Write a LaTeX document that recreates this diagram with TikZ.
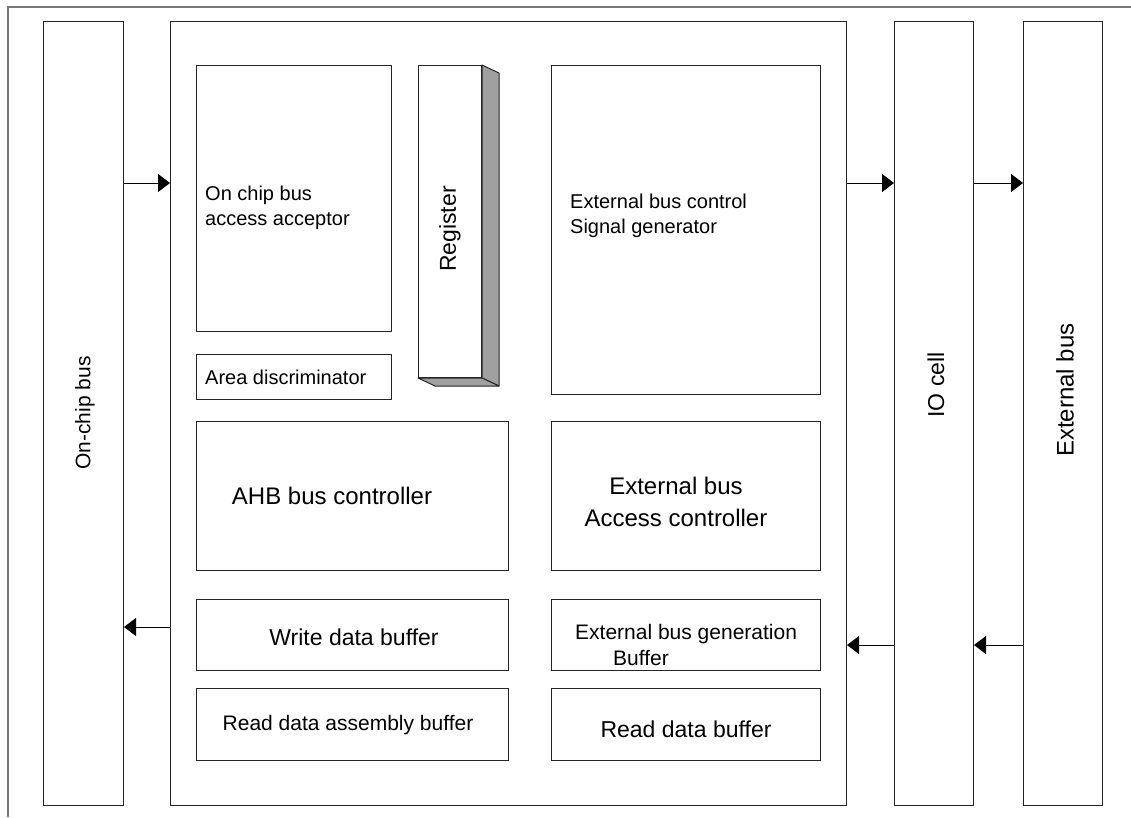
\documentclass[tikz,border=0pt]{standalone}
\usepackage{fontspec}
\setmainfont{Liberation Sans}
\usetikzlibrary{arrows.meta,calc}
\definecolor{regside}{RGB}{160,160,160}
\definecolor{framegray}{RGB}{120,120,120}
\tikzset{
  box/.style={draw=black!85, line width=1pt, inner sep=0pt, anchor=north west},
  lbl/.style={inner sep=0pt, align=left},
  arr/.style={line width=1pt, -{Triangle[length=12pt,width=18pt]}},
}
\newcommand{\fs}[1]{\fontsize{#1}{#1}\selectfont}
\begin{document}
\begin{tikzpicture}[x=1pt,y=-1pt]
\useasboundingbox (0,0) rectangle (1131,817);
\draw[framegray, line width=1.2pt] (8,817) -- (8,7) -- (1131,7);

% tall columns
\node[box, minimum width=80pt, minimum height=784pt] (ocb) at (43,21) {};
\node[box, minimum width=676pt, minimum height=784pt] (main) at (170,21) {};
\node[box, minimum width=79pt, minimum height=784pt] (io) at (894,21) {};
\node[box, minimum width=79pt, minimum height=784pt] (ext) at (1023,21) {};

% inner boxes
\node[box, minimum width=195pt, minimum height=266pt] (acc) at (196,65) {};
\node[box, minimum width=195pt, minimum height=45pt] (area) at (196,354) {};
\node[box, minimum width=63pt, minimum height=312pt] (reg) at (418,65) {};
\node[box, minimum width=269pt, minimum height=329pt] (ebc) at (551,65) {};
\node[box, minimum width=312pt, minimum height=149pt] (ahb) at (196,421) {};
\node[box, minimum width=269pt, minimum height=149pt] (eac) at (551,421) {};
\node[box, minimum width=312pt, minimum height=71pt] (wdb) at (196,599) {};
\node[box, minimum width=269pt, minimum height=71pt] (ebg) at (551,599) {};
\node[box, minimum width=312pt, minimum height=72pt] (rdab) at (196,688) {};
\node[box, minimum width=269pt, minimum height=72pt] (rdb) at (551,688) {};

% register 3D faces
\draw[fill=regside, draw=black!85, line width=1pt, line join=round]
  (reg.north east) -- ++(17,8) -- ($(reg.south east)+(17,8)$) -- (reg.south east) -- cycle;
\draw[fill=regside, draw=black!85, line width=1pt, line join=round]
  (reg.south west) -- (reg.south east) -- ($(reg.south east)+(17,8)$) -- ($(reg.south west)+(17,8)$) -- cycle;

% texts
\node[lbl, anchor=west, font=\fs{20}] (tacc) at (205,208)
  {On chip bus\\[5pt]access acceptor};
\node[lbl, anchor=west, font=\fs{20}] (tarea) at (205,377) {Area discriminator};
\node[lbl, rotate=90, font=\fs{23}] (treg) at (450,229) {Register};
\node[lbl, anchor=west, font=\fs{20}] (tebc) at (570,216)
  {External bus control\\[5pt]Signal generator};
\node[lbl, font=\fs{24}] (tahb) at (332,496) {AHB bus controller};
\node[lbl, align=center, font=\fs{24}] (teac) at (676,502)
  {External bus\\[8pt]Access controller};
\node[lbl, font=\fs{23}] (twdb) at (354,637) {Write data buffer};
\node[lbl, anchor=west, font=\fs{21}] (tebg) at (575,645)
  {External bus generation\\[5pt]\hspace*{38pt}Buffer};
\node[lbl, font=\fs{21}] (trdab) at (348,725) {Read data assembly buffer};
\node[lbl, font=\fs{23}] (trdb) at (686,729) {Read data buffer};
\node[lbl, rotate=90, font=\fs{21}] (tocb) at (85,413) {On-chip bus};
\node[lbl, rotate=90, font=\fs{23}] (tio) at (936,385) {IO cell};
\node[lbl, rotate=90, font=\fs{24}] (text) at (1065,390) {External bus};

% arrows
\draw[arr] (ocb.east |- 0,183) -- (main.west |- 0,183);
\draw[arr] (main.east |- 0,183) -- (io.west |- 0,183);
\draw[arr] (io.east |- 0,183) -- (ext.west |- 0,183);
\draw[arr] (main.west |- 0,627) -- (ocb.east |- 0,627);
\draw[arr] (io.west |- 0,645) -- (main.east |- 0,645);
\draw[arr] (ext.west |- 0,645) -- (io.east |- 0,645);
\end{tikzpicture}
\end{document}
